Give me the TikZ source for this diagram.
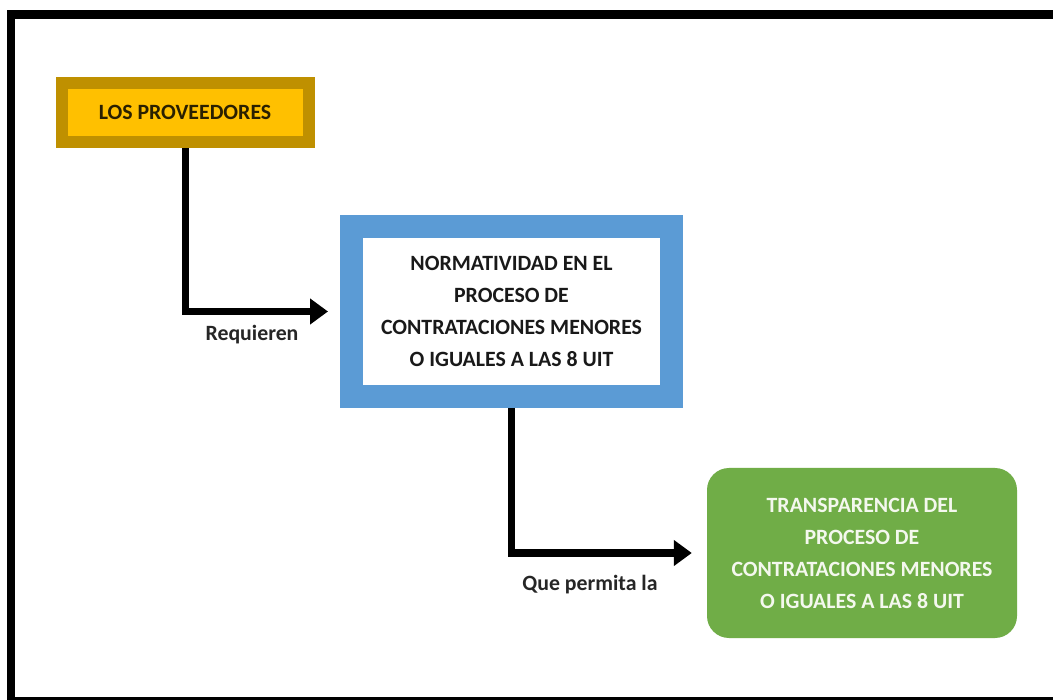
\documentclass[tikz,border=0pt]{standalone}
\usepackage{fontspec}
\setmainfont{Carlito}
\usetikzlibrary{arrows.meta}
\definecolor{gold}{HTML}{BF9000}
\definecolor{amber}{HTML}{FFC000}
\definecolor{bluebox}{HTML}{5B9BD5}
\definecolor{greenbox}{HTML}{70AD47}
\definecolor{darktext}{HTML}{2A2000}
\definecolor{lighttext}{HTML}{F4F8EE}
\tikzset{
  boxtext/.style={align=center, font=\fontsize{21.8}{32}\selectfont\bfseries, inner sep=0pt},
  arr/.style={line width=7pt, -{Triangle[length=18pt,width=25pt]}},
  lbl/.style={font=\fontsize{21.8}{24}\selectfont\bfseries, text=black!85, inner sep=0pt}
}
\begin{document}
\begin{tikzpicture}[x=1pt,y=-1pt]
\useasboundingbox (0,0) rectangle (1053,700);
\clip (0,0) rectangle (1053,700);
% outer frame
\fill[black] (7,10) rectangle (1080,720);
\fill[white] (15,19) rectangle (1080,697);
% boxes
\node[boxtext, draw=gold, fill=amber, line width=12pt, minimum width=247pt, minimum height=59pt, text=darktext] (yel) at (185,112.5) {LOS PROVEEDORES};
\node[boxtext, draw=bluebox, fill=white, line width=23pt, minimum width=320pt, minimum height=170pt, text=black!90] (blu) at (511.5,311.5) {NORMATIVIDAD EN EL\\PROCESO DE\\CONTRATACIONES MENORES\\O IGUALES A LAS 8 UIT};
\node[boxtext, fill=greenbox, rounded corners=22pt, minimum width=310pt, minimum height=170pt, text=lighttext] (grn) at (862,553) {TRANSPARENCIA DEL\\PROCESO DE\\CONTRATACIONES MENORES\\O IGUALES A LAS 8 UIT};
% connectors
\coordinate (t1) at ([xshift=-12pt]blu.west);
\coordinate (t2) at ([xshift=-15pt]grn.west);
\draw[arr] (yel.south) |- (t1);
\draw[arr] (blu.south) |- (t2);
% labels
\node[lbl] (req) at (252,335) {Requieren};
\node[lbl] (que) at (590,585) {Que permita la};
\end{tikzpicture}
\end{document}
